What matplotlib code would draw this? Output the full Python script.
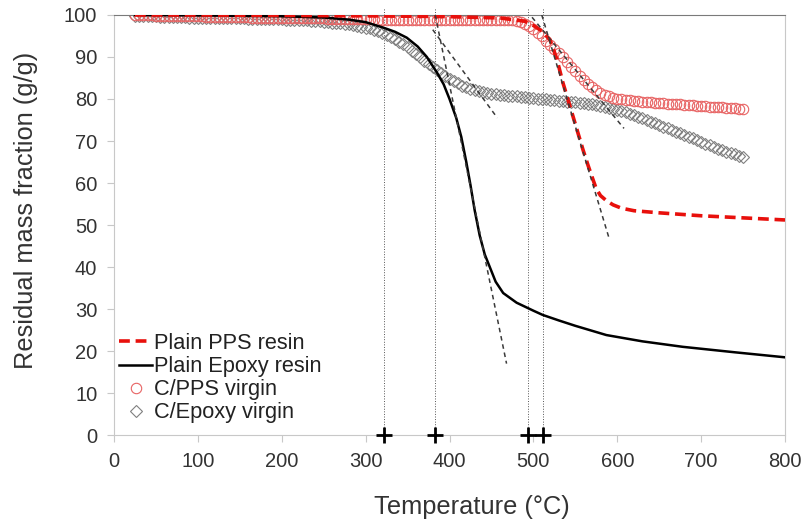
import numpy as np
import matplotlib
matplotlib.use("Agg")
import matplotlib.pyplot as plt
from matplotlib.lines import Line2D

plt.rcParams['font.family'] = ['Liberation Sans', 'DejaVu Sans']

# --- DATA ---
# plain resins, drawn as lines
pps_T = [25, 100, 200, 300, 400, 460, 490, 500, 510, 520, 528, 535, 541, 547, 553,
         559, 565, 570, 575, 580, 587, 595, 605, 620, 650, 700, 750, 800]
pps_M = [100, 100, 99.9, 99.8, 99.6, 99.3, 98.5, 97.5, 96.2, 94.0, 89.5, 84.0, 80.0, 76.0, 72.0,
         68.0, 64.3, 61.4, 58.6, 57.0, 55.8, 54.8, 54.0, 53.4, 52.9, 52.2, 51.7, 51.2]

epoxy_T = [25, 100, 200, 250, 280, 300, 321, 335, 349, 362, 373, 385, 393, 400, 408, 414,
           420, 425, 430, 436, 442, 448, 455, 464, 480, 500, 511, 530, 550, 587, 630, 678,
           740, 800]
epoxy_M = [100, 99.9, 99.7, 99.4, 98.9, 98.3, 97.0, 96.0, 94.6, 92.5, 90.0, 86.3, 83.5, 80.0, 75.5, 71.0,
           65.0, 59.5, 53.5, 47.5, 43.0, 40.0, 36.5, 33.8, 31.5, 29.6, 28.6, 27.3, 26.0, 23.8, 22.3, 21.0,
           19.7, 18.5]

# composites, one reading every 5 degC from 25 to 750
comp_T = np.arange(25, 751, 5)
cpps_M = [100.0, 100.0, 99.9, 99.9, 99.9, 99.8, 99.8, 99.8, 99.8, 99.7, 99.7, 99.7, 99.7, 99.7, 99.7,
          99.7, 99.7, 99.6, 99.6, 99.6, 99.6, 99.6, 99.5, 99.5, 99.5, 99.5, 99.5, 99.5, 99.4, 99.4,
          99.4, 99.4, 99.4, 99.4, 99.4,
          99.4, 99.3, 99.3, 99.3, 99.3, 99.3, 99.2, 99.2, 99.2, 99.2, 99.2, 99.1, 99.1, 99.1, 99.1,
          99.1, 99.0, 99.0, 99.0, 99.0,
          99.0, 99.0, 99.0, 98.9, 98.9, 98.9, 98.9, 98.9, 98.9, 98.9, 98.8, 98.8, 98.8, 98.8, 98.8,
          98.8, 98.8, 98.8, 98.8, 98.8,
          98.8, 98.8, 98.8, 98.8, 98.8, 98.8, 98.7, 98.7, 98.7, 98.7, 98.7, 98.7, 98.7, 98.7, 98.7,
          98.7, 98.6, 98.3, 97.9, 97.3,
          96.6, 95.8, 94.9, 93.9, 92.9, 91.9, 90.9, 89.9, 88.8, 87.7, 86.6, 85.5, 84.5, 83.6, 82.8,
          82.1, 81.5, 81.0, 80.6, 80.3,
          80.1, 79.9, 79.8, 79.7, 79.6, 79.5, 79.4, 79.3, 79.2, 79.1, 79.1, 79.0, 78.9, 78.8, 78.8,
          78.7, 78.6, 78.5, 78.5, 78.4,
          78.4, 78.3, 78.2, 78.2, 78.1, 78.0, 77.9, 77.9, 77.8, 77.7, 77.6]
cepoxy_M = [99.8, 99.8, 99.8, 99.7, 99.7, 99.7, 99.6, 99.6, 99.6, 99.5, 99.5, 99.5, 99.5, 99.4, 99.4,
            99.4, 99.4, 99.4, 99.3, 99.3, 99.3, 99.3, 99.2, 99.2, 99.2, 99.2, 99.2, 99.1, 99.1, 99.1,
            99.1, 99.1, 99.0, 99.0, 99.0,
            99.0, 98.9, 98.9, 98.8, 98.8, 98.7, 98.7, 98.6, 98.6, 98.5, 98.4, 98.3, 98.2, 98.1, 98.0,
            97.9, 97.8, 97.6, 97.4, 97.2,
            97.0, 96.8, 96.5, 96.1, 95.7, 95.2, 94.7, 94.2, 93.6, 93.0, 92.3, 91.5, 90.7, 89.9, 89.1,
            88.3, 87.5, 86.8, 86.1, 85.4,
            84.8, 84.2, 83.7, 83.2, 82.8, 82.4, 82.1, 81.8, 81.6, 81.4, 81.2, 81.1, 81.0, 80.9, 80.8,
            80.7, 80.6, 80.5, 80.4, 80.3,
            80.2, 80.1, 80.0, 79.9, 79.8, 79.7, 79.6, 79.5, 79.4, 79.3, 79.2, 79.1, 79.0, 78.8, 78.7,
            78.5, 78.3, 78.1, 77.9, 77.7,
            77.4, 77.1, 76.8, 76.5, 76.2, 75.8, 75.4, 75.0, 74.6, 74.2, 73.8, 73.4, 73.0, 72.6, 72.2,
            71.8, 71.4, 71.0, 70.6, 70.2,
            69.8, 69.4, 69.0, 68.6, 68.2, 67.8, 67.4, 67.1, 66.8, 66.5, 66.2]

# onset temperatures (vertical guides) and tangent construction lines
onsets = [322, 383, 493, 511]
tangents = [
    ([383, 468], [100, 17]),     # plain epoxy
    ([380, 457], [96.5, 75.5]),  # C/Epoxy
    ([510, 590], [100, 47]),     # plain PPS
    ([492, 608], [101, 73]),     # C/PPS
]

# --- FIGURE ---
fig = plt.figure(figsize=(8.04, 5.28), dpi=100)
ax = fig.add_axes([0.1418, 0.1761, 0.8346, 0.7955])

ax.plot(comp_T, cepoxy_M, linestyle='none', marker='D', markersize=6.5,
        markerfacecolor='none', markeredgecolor='#808080', markeredgewidth=0.8,
        label='C/Epoxy virgin', zorder=2)
ax.plot(comp_T, cpps_M, linestyle='none', marker='o', markersize=7.5,
        markerfacecolor='none', markeredgecolor='#e86464', markeredgewidth=0.8,
        label='C/PPS virgin', zorder=2)
ax.plot(epoxy_T, epoxy_M, color='black', linewidth=1.8, label='Plain Epoxy resin', zorder=3)
ax.plot(pps_T, pps_M, color='#e8100c', linewidth=2.6, dashes=(3, 1.6),
        label='Plain PPS resin', zorder=3)

for tx, ty in tangents:
    ax.plot(tx, ty, color='#3a3a3a', linewidth=1.1, dashes=(3, 2.5), zorder=4)

for t in onsets:
    ax.plot([t, t], [0, 101.6], color='#555555', linewidth=0.7, linestyle=':',
            clip_on=False, zorder=1)
    ax.plot(t, 0, marker='+', markersize=11, markeredgewidth=2, color='black',
            clip_on=False, zorder=5)

ax.set_xlim(0, 800)
ax.set_ylim(0, 100)
ax.set_xticks(np.arange(0, 801, 100))
ax.set_yticks(np.arange(0, 101, 10))

for side in ['left', 'bottom', 'right']:
    ax.spines[side].set_color('#c8c8c8')
ax.spines['top'].set_color('#7a7a7a')
ax.tick_params(axis='both', direction='out', length=5, width=0.8, color='#c8c8c8',
               labelsize=14.5, labelcolor='#333333', pad=7)

ax.set_xlabel('Temperature (°C)', fontsize=18.3, color='#333333')
ax.set_ylabel('Residual mass fraction (g/g)', fontsize=18.3, color='#333333')
ax.xaxis.set_label_coords(0.533, -0.143)
ax.yaxis.set_label_coords(-0.113, 0.536)

handles = [
    Line2D([], [], color='#e8100c', linewidth=2.6, dashes=(3, 1.6)),
    Line2D([], [], color='black', linewidth=1.8),
    Line2D([], [], linestyle='none', marker='o', markersize=7.5, markerfacecolor='none',
           markeredgecolor='#e86464', markeredgewidth=0.8),
    Line2D([], [], linestyle='none', marker='D', markersize=6.5, markerfacecolor='none',
           markeredgecolor='#808080', markeredgewidth=0.8),
]
labels = ['Plain PPS resin', 'Plain Epoxy resin', 'C/PPS virgin', 'C/Epoxy virgin']
ax.legend(handles, labels, loc='upper left', bbox_to_anchor=(0.008, 0.243), frameon=False,
          fontsize=15.7, handlelength=1.5, handletextpad=0.1, labelspacing=0.1, borderpad=0,
          borderaxespad=0, labelcolor='#222222')

fig.savefig('out.png', dpi=100)
